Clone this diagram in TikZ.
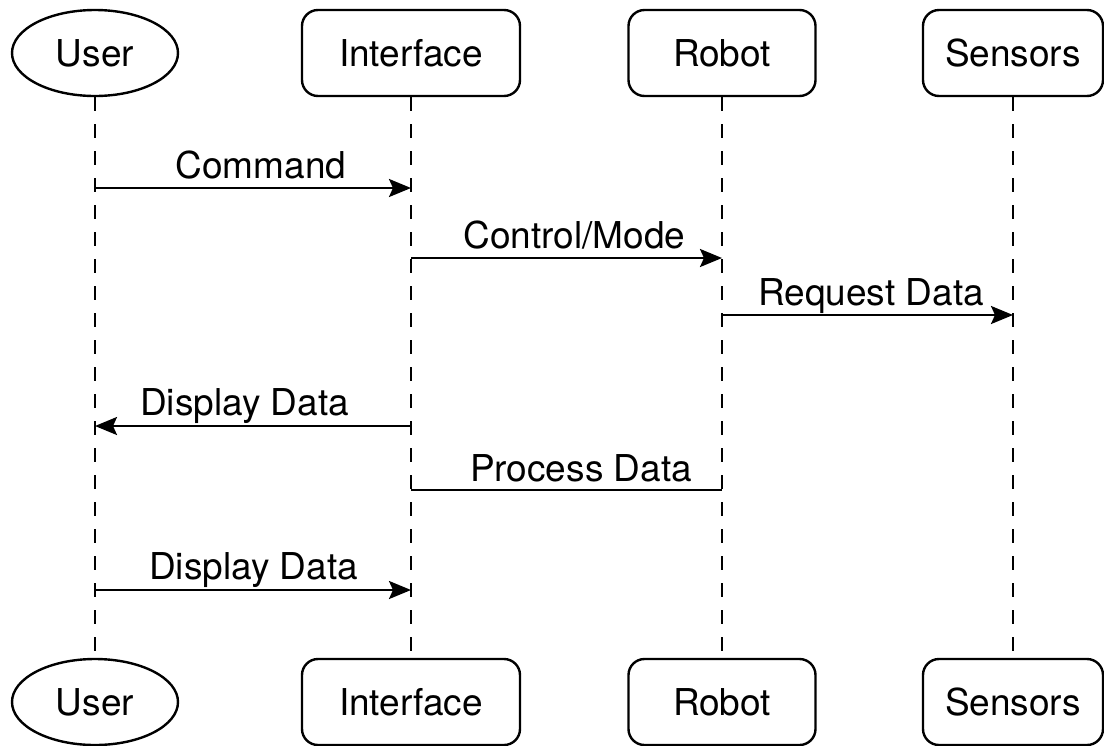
\documentclass[tikz,border=0pt]{standalone}
\usepackage{fontspec}
\setmainfont{TeX Gyre Heros}
\usetikzlibrary{arrows.meta,shapes.geometric}
\begin{document}
\begin{tikzpicture}[x=0.5pt,y=-0.5pt,
  every node/.style={font=\fontsize{18.5}{22}\selectfont, inner sep=0pt},
  actor/.style={draw, line width=1.2pt, ellipse, minimum width=83pt, minimum height=43pt},
  part/.style={draw, line width=1.2pt, rounded corners=8pt, minimum height=43pt},
  life/.style={line width=1.1pt, dash pattern=on 7pt off 6.5pt},
  msg/.style={line width=1.2pt, -{Stealth[length=11pt,width=9pt,inset=2pt]}},
  plain/.style={line width=1.2pt},
  lbl/.style={anchor=base}]
\useasboundingbox (0,0) rectangle (1104,745);
% top row
\node[actor] (uT) at (95,53) {User};
\node[part, minimum width=109pt] (iT) at (411,53) {Interface};
\node[part, minimum width=93.5pt] (rT) at (722,53) {Robot};
\node[part, minimum width=90pt] (sT) at (1013,53) {Sensors};
% bottom row
\node[actor] (uB) at (95,702) {User};
\node[part, minimum width=109pt] (iB) at (411,702) {Interface};
\node[part, minimum width=93.5pt] (rB) at (722,702) {Robot};
\node[part, minimum width=90pt] (sB) at (1013,702) {Sensors};
% lifelines
\draw[life] (uT) -- (uB);
\draw[life] (iT) -- (iB);
\draw[life] (rT) -- (rB);
\draw[life] (sT) -- (sB);
% messages
\draw[msg] (uT |- 0,188) -- (iT |- 0,188);
\node[lbl] (l1) at (261,178) {Command};
\draw[msg] (iT |- 0,258) -- (rT |- 0,258);
\node[lbl] (l2) at (574.5,248) {Control/Mode};
\draw[msg] (rT |- 0,315) -- (sT |- 0,315);
\node[lbl] (l3) at (871,305) {Request Data};
\draw[msg] (iT |- 0,426) -- (uT |- 0,426);
\node[lbl] (l4) at (244.5,415) {Display Data};
\draw[plain] (iT |- 0,490) -- (rT |- 0,490);
\node[lbl] (l5) at (581,481) {Process Data};
\draw[msg] (uT |- 0,590) -- (iT |- 0,590);
\node[lbl] (l6) at (253.5,579) {Display Data};
\end{tikzpicture}
\end{document}
